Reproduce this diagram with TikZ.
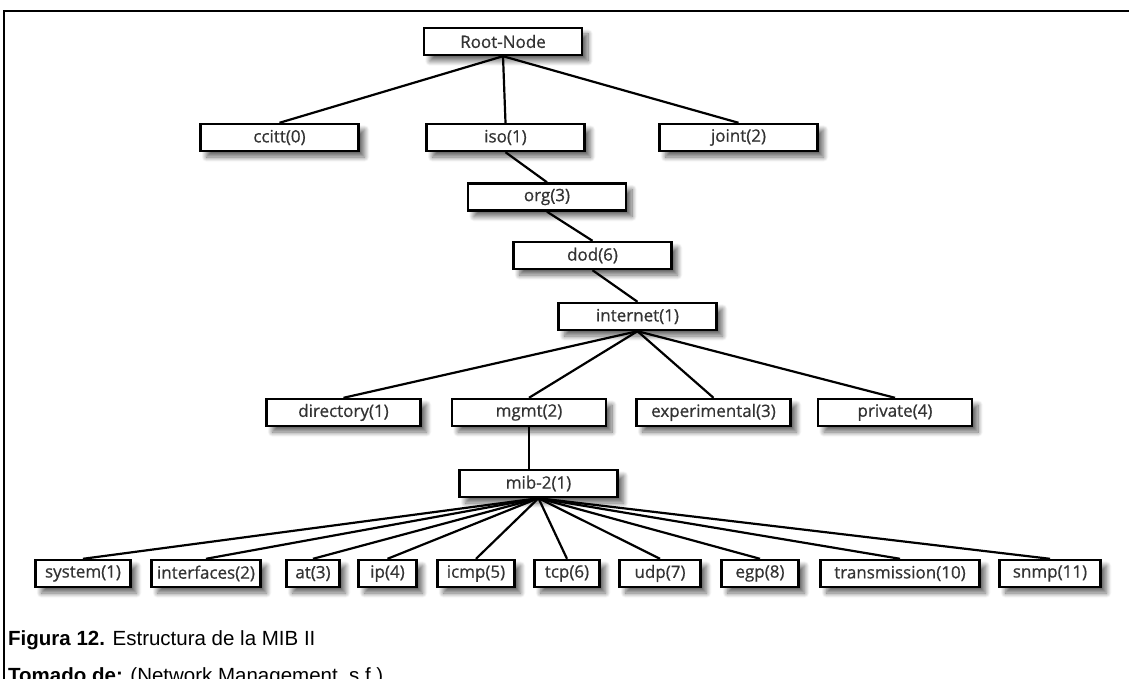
\documentclass[tikz,border=0pt]{standalone}
\usepackage{fontspec}
\newfontfamily\treefont[FakeBold=0.7]{Open Sans}
\newfontfamily\capfont{Liberation Sans}
\usetikzlibrary{shadows.blur}
\pgfdeclarelayer{background}
\pgfsetlayers{background,main}

\tikzset{
  treebox/.style={draw=black, line width=2.4pt, fill=white, inner sep=0pt,
    minimum height=27pt, text=black!80,
    font=\treefont\fontsize{17}{20}\selectfont,
    blur shadow={shadow xshift=6pt, shadow yshift=-6pt,
      shadow blur radius=5pt, shadow opacity=60, shadow blur steps=10}},
  wide/.style={treebox, minimum width=158pt},
  mid/.style={treebox, minimum width=154pt},
  link/.style={draw=black, line width=2.2pt},
  frameline/.style={draw=black, line width=2.5pt},
  caption/.style={anchor=base west, inner sep=0pt, text=black,
    font=\capfont\fontsize{20.5}{24}\selectfont}
}

\begin{document}
\begin{tikzpicture}[x=1pt, y=-1pt]
  \useasboundingbox (0,0) rectangle (1129,679);

  % outer frame (top and left rule)
  \draw[frameline] (4,690) -- (4,11) -- (1140,11);

  % upper levels of the OID tree
  \node[wide] (root) at (503,41.5) {Root-Node};
  \node[wide] (ccitt) at (279.5,137.5) {ccitt(0)};
  \node[wide] (iso) at (505.5,137.5) {iso(1)};
  \node[wide] (joint) at (738.5,137.5) {joint(2)};
  \node[wide] (org) at (547,197) {org(3)};
  \node[wide] (dod) at (592.5,255.5) {dod(6)};
  \node[wide] (internet) at (637.5,316.5) {internet(1)};

  \node[mid] (directory) at (343.5,412.5) {directory(1)};
  \node[mid] (mgmt) at (529,412.5) {mgmt(2)};
  \node[mid] (experimental) at (713.5,412.5) {experimental(3)};
  \node[mid] (private) at (895,412.5) {private(4)};

  \node[wide] (mib) at (538.5,483.5) {mib-2(1)};

  % MIB-II groups
  \node[treebox, minimum width=95pt]  (system)       at (83,573.5)  {system(1)};
  \node[treebox, minimum width=109pt] (interfaces)   at (206,573.5) {interfaces(2)};
  \node[treebox, minimum width=53pt]  (at)           at (313,573.5) {at(3)};
  \node[treebox, minimum width=58pt]  (ip)           at (387.5,573.5) {ip(4)};
  \node[treebox, minimum width=77pt]  (icmp)         at (476,573.5) {icmp(5)};
  \node[treebox, minimum width=65pt]  (tcp)          at (567,573.5) {tcp(6)};
  \node[treebox, minimum width=81pt]  (udp)          at (660,573.5) {udp(7)};
  \node[treebox, minimum width=77pt]  (egp)          at (760,573.5) {egp(8)};
  \node[treebox, minimum width=159pt] (transmission) at (900,573.5) {transmission(10)};
  \node[treebox, minimum width=101pt] (snmp)         at (1050,573.5) {snmp(11)};

  % connectors
  \begin{pgfonlayer}{background}
    \foreach \c in {ccitt, iso, joint}
      \draw[link] (root.south) -- (\c.north);
    \draw[link] (iso.south) -- (org.north);
    \draw[link] (org.south) -- (dod.north);
    \draw[link] (dod.south) -- (internet.north);
    \foreach \c in {directory, mgmt, experimental, private}
      \draw[link] (internet.south) -- (\c.north);
    \draw[link] (mgmt.south) -- (mgmt.south |- mib.north);
    \foreach \c in {system, interfaces, at, ip, icmp, tcp, udp, egp, transmission, snmp}
      \draw[link] (mib.south) -- (\c.north);
  \end{pgfonlayer}

  % caption
  \node[caption] (fig) at (8,645) {\textbf{Figura 12.} Estructura de la MIB II};
  \node[caption] (src) at (8,682) {\textbf{Tomado de:} (Network Management, s.f.)};
\end{tikzpicture}
\end{document}
